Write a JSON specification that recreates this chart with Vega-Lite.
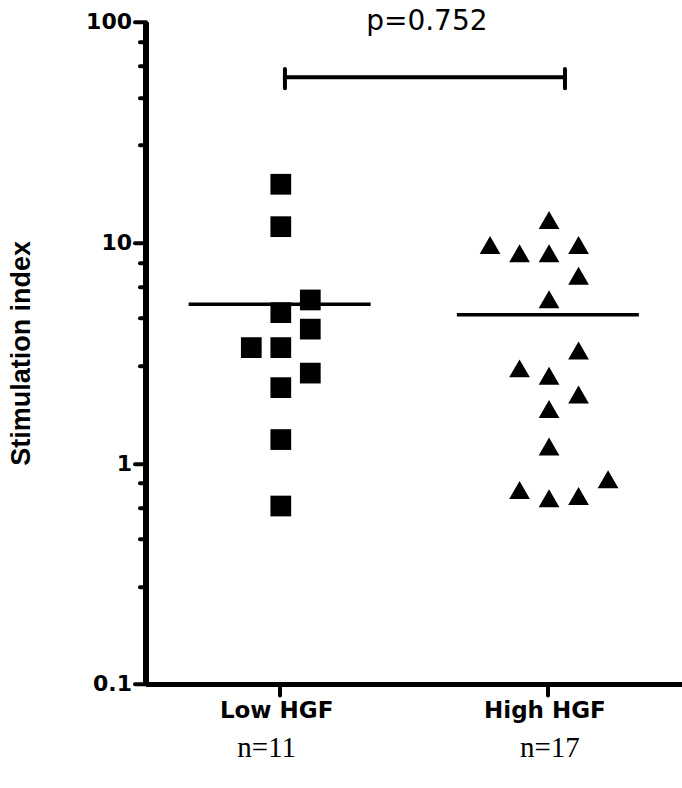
{
  "$schema": "https://vega.github.io/schema/vega-lite/v6.json",
  "width": 536.5,
  "height": 662.3,
  "autosize": {"type": "none"},
  "padding": {"left": 145.5, "top": 21.7, "right": 0, "bottom": 104.3},
  "background": "white",
  "config": {"view": {"stroke": null}},
  "datasets": {
    "points": [
      {"grp": "Low HGF", "col": 0, "v": 18.35},
      {"grp": "Low HGF", "col": 0, "v": 11.79},
      {"grp": "Low HGF", "col": 1, "v": 5.49},
      {"grp": "Low HGF", "col": 0, "v": 4.81},
      {"grp": "Low HGF", "col": 1, "v": 4.05},
      {"grp": "Low HGF", "col": -1, "v": 3.34},
      {"grp": "Low HGF", "col": 0, "v": 3.34},
      {"grp": "Low HGF", "col": 1, "v": 2.56},
      {"grp": "Low HGF", "col": 0, "v": 2.2},
      {"grp": "Low HGF", "col": 0, "v": 1.28},
      {"grp": "Low HGF", "col": 0, "v": 0.64},
      {"grp": "High HGF", "col": 0, "v": 12.65},
      {"grp": "High HGF", "col": -2, "v": 9.74},
      {"grp": "High HGF", "col": -1, "v": 8.93},
      {"grp": "High HGF", "col": 0, "v": 8.93},
      {"grp": "High HGF", "col": 1, "v": 9.74},
      {"grp": "High HGF", "col": 1, "v": 7.07},
      {"grp": "High HGF", "col": 0, "v": 5.53},
      {"grp": "High HGF", "col": 1, "v": 3.24},
      {"grp": "High HGF", "col": -1, "v": 2.69},
      {"grp": "High HGF", "col": 0, "v": 2.49},
      {"grp": "High HGF", "col": 1, "v": 2.05},
      {"grp": "High HGF", "col": 0, "v": 1.76},
      {"grp": "High HGF", "col": 0, "v": 1.19},
      {"grp": "High HGF", "col": -1, "v": 0.757},
      {"grp": "High HGF", "col": 0, "v": 0.694},
      {"grp": "High HGF", "col": 1, "v": 0.711},
      {"grp": "High HGF", "col": 2, "v": 0.846}
    ],
    "medians": [
      {"grp": "Low HGF", "v": 5.25},
      {"grp": "High HGF", "v": 4.7}
    ],
    "bracket": [
      {"seq": 1, "grp": "Low HGF", "col": 0.14, "v": 61},
      {"seq": 2, "grp": "Low HGF", "col": 0.14, "v": 50},
      {"seq": 3, "grp": "Low HGF", "col": 0.14, "v": 56},
      {"seq": 4, "grp": "High HGF", "col": 0.54, "v": 56},
      {"seq": 5, "grp": "High HGF", "col": 0.54, "v": 61},
      {"seq": 6, "grp": "High HGF", "col": 0.54, "v": 50}
    ],
    "ptext": [
      {"grp": "Low HGF", "col": 4.95, "v": 91.7, "label": "p=0.752"}
    ]
  },
  "resolve": {"axis": {"x": "independent"}},
  "layer": [
    {
      "data": {"name": "points"},
      "mark": {"type": "point", "filled": true, "color": "black", "opacity": 1, "size": 430, "strokeWidth": 0},
      "encoding": {
        "x": {
          "field": "grp", "type": "nominal",
          "scale": {"domain": ["Low HGF", "High HGF"], "paddingInner": 0, "paddingOuter": 0},
          "axis": {
            "orient": "bottom", "title": null, "labelAngle": 0,
            "domainWidth": 5, "domainColor": "black",
            "tickSize": 11, "tickWidth": 4, "tickColor": "black", "tickCap": "round",
            "labelFont": "DejaVu Sans", "labelFontWeight": "bold", "labelFontSize": 23, "labelColor": "black",
            "labelPadding": 5, "labelOffset": -3
          }
        },
        "xOffset": {"field": "col", "type": "quantitative", "scale": {"domain": [-5, 5], "range": [-12.2, 282.8]}},
        "y": {
          "field": "v", "type": "quantitative",
          "scale": {"type": "log", "domain": [0.1, 100], "nice": false},
          "axis": {
            "title": "Stimulation index",
            "titleFont": "Liberation Sans", "titleFontSize": 27, "titleFontWeight": "bold", "titleColor": "black",
            "titlePadding": 50,
            "values": [0.1, 0.276, 0.454, 0.631, 0.813, 1, 2.76, 4.54, 6.31, 8.13, 10, 27.6, 45.4, 63.1, 81.3, 100],
            "labelExpr": "datum.value == 100 ? '100' : datum.value == 10 ? '10' : datum.value == 1 ? '1' : datum.value == 0.1 ? '0.1' : ''",
            "grid": false,
            "domainWidth": 6, "domainColor": "black",
            "tickWidth": 4, "tickColor": "black", "tickCap": "round",
            "tickSize": {"condition": {"test": "datum.value == 100 || datum.value == 10 || datum.value == 1 || datum.value == 0.1", "value": 11}, "value": 6},
            "labelFont": "DejaVu Sans", "labelFontWeight": "bold", "labelFontSize": 22, "labelColor": "black",
            "labelPadding": 3
          }
        },
        "shape": {"field": "grp", "type": "nominal", "scale": {"domain": ["Low HGF", "High HGF"], "range": ["square", "triangle-up"]}, "legend": null}
      }
    },
    {
      "data": {"name": "medians"},
      "mark": {"type": "tick", "color": "black", "size": 182, "thickness": 3.5, "opacity": 1},
      "encoding": {
        "x": {
          "field": "grp", "type": "nominal",
          "scale": {"domain": ["Low HGF", "High HGF"], "paddingInner": 0, "paddingOuter": 0},
          "axis": {
            "orient": "bottom", "title": null, "labelAngle": 0, "offset": 50,
            "domain": false, "ticks": false, "tickSize": 0,
            "labelExpr": "datum.value == 'Low HGF' ? 'n=11' : 'n=17'",
            "labelFont": "Liberation Serif", "labelFontWeight": "normal", "labelFontSize": 29, "labelColor": "black",
            "labelPadding": 0,
            "labelOffset": {"condition": {"test": "datum.value == 'Low HGF'", "value": -13}, "value": 2}
          }
        },
        "y": {"field": "v", "type": "quantitative"}
      }
    },
    {
      "data": {"name": "bracket"},
      "mark": {"type": "line", "color": "black", "strokeWidth": 4, "strokeCap": "round", "strokeJoin": "round"},
      "encoding": {
        "x": {"field": "grp", "type": "nominal", "axis": null},
        "xOffset": {"field": "col", "type": "quantitative"},
        "y": {"field": "v", "type": "quantitative"},
        "order": {"field": "seq", "type": "quantitative"}
      }
    },
    {
      "data": {"name": "ptext"},
      "mark": {"type": "text", "font": "DejaVu Sans", "fontSize": 28, "color": "black", "baseline": "alphabetic", "align": "center"},
      "encoding": {
        "x": {"field": "grp", "type": "nominal", "axis": null},
        "xOffset": {"field": "col", "type": "quantitative"},
        "y": {"field": "v", "type": "quantitative"},
        "text": {"field": "label"}
      }
    }
  ]
}
